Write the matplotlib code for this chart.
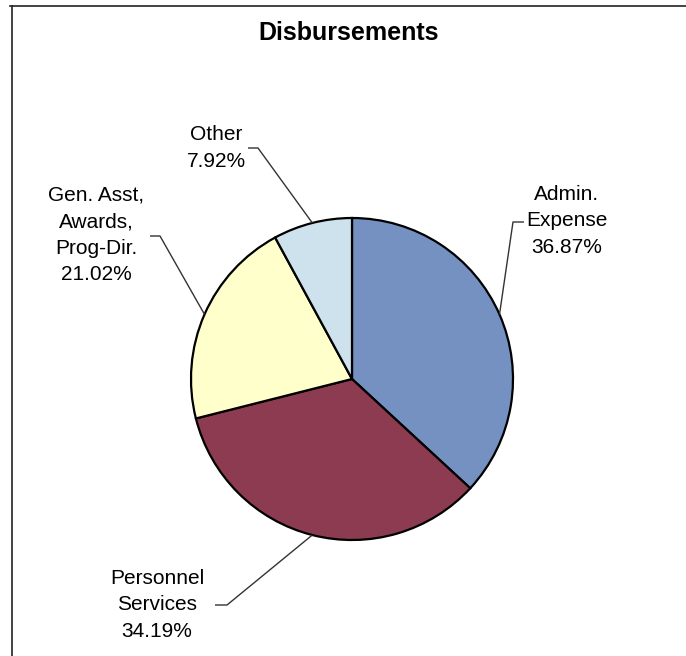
import numpy as np
import matplotlib.pyplot as plt
from matplotlib.lines import Line2D

plt.rcParams['font.family'] = ['Liberation Sans', 'DejaVu Sans']

labels = ['Admin.\nExpense', 'Personnel\nServices', 'Gen. Asst,\nAwards,\nProg-Dir.', 'Other']
values = [36.87, 34.19, 21.02, 7.92]
colors = ['#7491c2', '#8d3b50', '#ffffcc', '#cde2ec']

W, H = 686, 656
cx, cy, r = 352, H - 379, 161

# label text centres and the elbow of each leader line (pixels, y down)
text_pos = [(567, 221), (157, 605), (96, 235), (216, 148)]
elbow = [((524, 222), (513, 222)), ((215, 605), (227, 605)),
         ((150, 236), (160, 236)), ((248, 148), (258, 148))]

fig = plt.figure(figsize=(W / 100, H / 100), dpi=100)
ax = fig.add_axes([0, 0, 1, 1])

wedges, _ = ax.pie(values, colors=colors, startangle=90, counterclock=False,
                   center=(cx, cy), radius=r, frame=True,
                   wedgeprops=dict(edgecolor='black', linewidth=1.6))
ax.set_xlim(0, W)
ax.set_ylim(0, H)
ax.set_aspect('equal')
ax.axis('off')

for i, w in enumerate(wedges):
    mid = np.deg2rad((w.theta1 + w.theta2) / 2)
    ex, ey = cx + r * np.cos(mid), cy + r * np.sin(mid)
    (x0, y0), (x1, y1) = elbow[i]
    ax.plot([ex, x1, x0], [ey, H - y1, H - y0], color='#333333', lw=1.0,
            solid_capstyle='butt')
    tx, ty = text_pos[i]
    ax.text(tx, H - ty, '%s\n%.2f%%' % (labels[i], values[i]), ha='center',
            va='center', fontsize=15, linespacing=1.5)

ax.text(349, H - 33, 'Disbursements', ha='center', va='center',
        fontsize=18, fontweight='bold')

# scanned frame (top and left edges only)
fig.add_artist(Line2D([10 / W, 1], [1 - 6 / H, 1 - 6 / H], color='#222222', lw=1.2))
fig.add_artist(Line2D([12 / W, 12 / W], [0, 1 - 6 / H], color='#222222', lw=1.2))

fig.savefig('out.png', dpi=100)
